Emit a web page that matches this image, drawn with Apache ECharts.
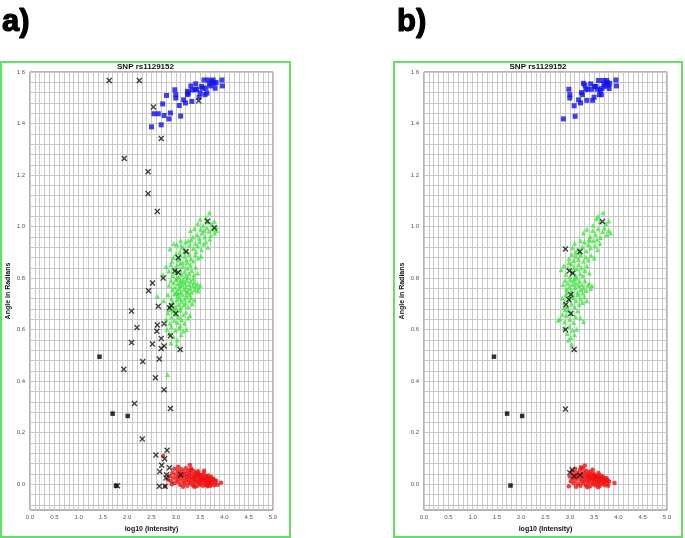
<!DOCTYPE html>
<html>
<head>
<meta charset="utf-8">
<script src="https://cdn.jsdelivr.net/npm/echarts@6/dist/echarts.min.js"></script>
<style>
  html, body { margin: 0; padding: 0; background: #fff; }
  #chart { width: 685px; height: 538px; }
</style>
</head>
<body>
<div id="chart"></div>
<script>
// axis ticks (labelled values)
const xTickLabels = [0, 0.5, 1, 1.5, 2, 2.5, 3, 3.5, 4, 4.5, 5];
const yTickLabels = [0, 0.2, 0.4, 0.6, 0.8, 1.0, 1.2, 1.4, 1.6];
const chartTitle = 'SNP rs1129152';
const xName = 'log10 (Intensity)';
const yName = 'Angle in Radians';

// ---- panel a) ----
const blueA = [
  [2.50,1.387],[2.55,1.438],[2.64,1.438],[2.70,1.395],[2.73,1.476],[2.76,1.431],[2.81,1.509],[2.86,1.418],
  [2.89,1.441],[2.98,1.531],[3.00,1.499],[3.00,1.512],[3.07,1.470],[3.10,1.429],[3.16,1.492],[3.20,1.480],
  [3.24,1.525],[3.26,1.518],[3.31,1.546],[3.33,1.486],[3.34,1.531],[3.41,1.554],[3.43,1.533],[3.50,1.518],
  [3.48,1.502],[3.53,1.544],[3.55,1.537],[3.58,1.569],[3.60,1.512],[3.64,1.518],[3.67,1.569],[3.69,1.554],
  [3.72,1.546],[3.74,1.563],[3.77,1.569],[3.79,1.556],[3.81,1.537],[3.83,1.559],[3.95,1.569],[3.96,1.546],
  [3.62,1.537],[3.40,1.531],[3.24,1.512]
];
const greenA = [
  [3.69,1.053],[3.50,1.028],[3.79,1.021],[3.62,1.035],[3.74,1.010],[3.56,1.005],[3.83,1.000],[3.45,1.012],[3.66,1.018],
  [3.30,0.985],[3.38,0.992],[3.44,0.968],[3.51,0.990],[3.55,0.975],[3.60,0.960],[3.64,0.995],[3.68,0.982],[3.72,0.965],
  [3.76,0.990],[3.80,0.975],[3.48,0.955],[3.58,0.985],[3.35,0.960],[3.70,0.952],[3.84,0.985],
  [3.02,0.930],[3.10,0.945],[3.15,0.918],[3.20,0.940],[3.24,0.905],[3.28,0.928],[3.32,0.948],[3.36,0.915],[3.40,0.935],
  [3.45,0.925],[3.49,0.942],[3.53,0.910],[3.57,0.932],[3.62,0.940],[3.66,0.920],[2.96,0.934],[3.18,0.905],[3.42,0.902],
  [3.26,0.945],[3.12,0.925],
  [2.95,0.880],[3.00,0.895],[3.05,0.870],[3.10,0.888],[3.14,0.862],[3.18,0.885],[3.22,0.870],[3.27,0.892],[3.31,0.875],
  [3.36,0.866],[3.40,0.890],[3.46,0.878],[3.52,0.885],[2.88,0.913],[3.08,0.900],[3.24,0.860],
  [2.74,0.813],[2.80,0.845],[2.86,0.828],[2.90,0.852],[2.94,0.810],[2.97,0.838],[3.00,0.822],[3.03,0.850],[3.06,0.805],
  [3.09,0.832],[3.12,0.815],[3.15,0.845],[3.18,0.825],[3.21,0.808],[3.24,0.838],[3.27,0.818],[3.30,0.850],[3.33,0.830],
  [3.37,0.812],[3.41,0.842],[3.45,0.820],[2.92,0.865],[3.10,0.858],[3.25,0.802],[3.02,0.800],
  [2.86,0.772],[2.90,0.790],[2.93,0.755],[2.96,0.782],[2.98,0.765],[3.01,0.795],[3.03,0.748],[3.05,0.778],[3.07,0.760],
  [3.09,0.788],[3.11,0.745],[3.13,0.772],[3.15,0.795],[3.17,0.756],[3.19,0.780],[3.21,0.766],[3.23,0.792],[3.25,0.750],
  [3.27,0.775],[3.29,0.760],[3.31,0.788],[3.33,0.745],[3.35,0.770],[3.37,0.782],[3.39,0.755],[3.41,0.768],[3.44,0.778],
  [3.47,0.762],[3.50,0.772],[3.00,0.742],[3.14,0.785],[3.22,0.745],[3.36,0.798],[3.46,0.750],[3.08,0.770],
  [2.62,0.730],[2.75,0.712],[2.84,0.735],[2.88,0.695],[2.91,0.720],[2.94,0.705],[2.97,0.738],[2.99,0.688],[3.02,0.715],
  [3.04,0.730],[3.06,0.698],[3.08,0.722],[3.10,0.685],[3.12,0.710],[3.14,0.735],[3.16,0.695],[3.18,0.718],[3.20,0.702],
  [3.22,0.728],[3.25,0.690],[3.28,0.712],[3.31,0.725],[3.34,0.700],[3.38,0.715],[2.95,0.682],[3.05,0.740],[3.27,0.735],
  [2.80,0.640],[2.84,0.665],[2.88,0.625],[2.91,0.650],[2.94,0.672],[2.97,0.635],[3.00,0.660],[3.03,0.628],[3.06,0.648],
  [3.09,0.675],[3.12,0.638],[3.15,0.658],[3.18,0.625],[3.21,0.668],[3.25,0.645],[3.29,0.655],[2.86,0.678],[3.02,0.678],
  [2.82,0.602],[2.87,0.585],[2.91,0.612],[2.95,0.572],[2.99,0.598],[3.03,0.560],[3.07,0.605],[3.11,0.580],[3.15,0.595],
  [3.22,0.601],[2.90,0.548],[3.02,0.540],[3.09,0.615],[2.83,0.426]
];
const redA = [
  [2.78,-0.008],[2.84,0.018],[2.88,0.032],[2.90,0.012],[2.93,0.045],[2.95,0.025],[2.97,0.060],[2.98,0.005],[3.00,0.038],[3.02,0.020],
  [3.04,0.052],[3.05,0.010],[3.06,0.030],[3.08,0.044],[3.09,-0.002],[3.10,0.022],[3.12,0.058],[3.13,0.035],[3.15,0.012],[3.16,0.048],
  [3.17,0.026],[3.18,0.004],[3.20,0.040],[3.21,0.062],[3.22,0.018],[3.23,0.030],[3.24,-0.006],[3.25,0.050],[3.26,0.010],[3.27,0.036],
  [3.28,0.024],[3.29,0.075],[3.30,0.004],[3.31,0.044],[3.32,0.060],[3.33,0.016],[3.34,0.030],[3.35,-0.004],[3.36,0.052],[3.37,0.022],
  [3.38,0.008],[3.39,0.038],[3.40,0.028],[3.41,0.014],[3.42,0.046],[3.43,-0.008],[3.44,0.020],[3.45,0.034],[3.46,0.004],[3.47,0.040],
  [3.48,0.012],[3.49,0.026],[3.50,-0.002],[3.51,0.036],[3.52,0.016],[3.53,0.008],[3.54,0.030],[3.55,0.020],[3.56,-0.006],[3.57,0.042],
  [3.58,0.012],[3.59,0.024],[3.60,0.002],[3.61,0.032],[3.62,0.016],[3.63,-0.004],[3.64,0.026],[3.65,0.008],[3.66,0.018],[3.67,0.034],
  [3.68,0.000],[3.69,0.012],[3.70,0.022],[3.71,-0.006],[3.72,0.010],[3.73,0.028],[3.74,0.004],[3.76,0.016],[3.78,0.020],[3.79,-0.004],
  [3.81,0.008],[3.83,0.014],[3.86,-0.002],[3.93,0.006],[3.15,-0.010],[3.05,0.068],[2.92,0.000],[3.30,0.056],[3.46,0.050],[3.38,-0.010],
  [3.58,0.052],[3.66,-0.008],[2.74,0.110]
];
const crossA = [
  [1.63,1.567],[2.25,1.567],[2.54,1.464],[2.70,1.342],[1.94,1.264],[2.43,1.213],[2.43,1.128],[2.62,1.059],[3.47,1.488],
  [3.65,1.021],[3.79,0.995],[3.21,0.903],[3.05,0.879],[2.98,0.828],[3.05,0.822],[2.74,0.800],[2.52,0.781],[2.44,0.751],
  [2.64,0.691],[2.87,0.685],[2.91,0.694],[3.00,0.663],[2.09,0.672],[2.20,0.608],[2.62,0.618],[2.76,0.623],[2.61,0.594],
  [2.89,0.576],[2.70,0.566],[2.09,0.550],[2.52,0.544],[2.76,0.537],[2.70,0.527],[3.09,0.523],[2.32,0.476],[2.66,0.486],
  [1.93,0.446],[2.58,0.413],[2.76,0.367],[2.15,0.313],[2.89,0.294],[2.31,0.176],[2.59,0.113],[2.82,0.132],[2.77,0.099],
  [2.71,0.074],[2.87,0.064],[2.67,0.049],[2.81,0.037],[2.80,0.024],[3.10,0.037],[2.66,-0.008],[2.78,-0.008],[1.80,-0.006]
];
const blackA = [[1.43,0.495],[1.70,0.274],[2.01,0.265],[1.77,-0.006]];

// ---- panel b) ----
const blueB = [
  [2.87,1.418],[2.98,1.533],[3.00,1.512],[3.00,1.499],[3.09,1.469],[3.11,1.428],[3.18,1.492],[3.22,1.480],
  [3.24,1.520],[3.26,1.512],[3.31,1.549],[3.33,1.533],[3.35,1.490],[3.43,1.554],[3.45,1.533],[3.47,1.490],
  [3.50,1.502],[3.54,1.544],[3.57,1.533],[3.59,1.567],[3.61,1.512],[3.63,1.528],[3.65,1.512],[3.69,1.567],
  [3.70,1.554],[3.72,1.544],[3.76,1.567],[3.77,1.559],[3.79,1.549],[3.81,1.536],[3.82,1.556],[3.95,1.569],
  [3.96,1.546],[3.37,1.533],[3.28,1.556],[3.51,1.544],[3.66,1.536]
];
const greenB = [
  [3.68,1.054],[3.55,1.030],[3.62,1.018],[3.74,1.012],[3.48,1.005],[3.80,1.022],[3.58,1.040],
  [3.28,0.975],[3.35,0.990],[3.42,0.962],[3.47,0.985],[3.53,0.970],[3.58,0.992],[3.63,0.958],[3.67,0.980],[3.71,0.995],
  [3.76,0.968],[3.80,0.985],[3.40,0.952],[3.56,0.950],[3.84,0.975],
  [3.10,0.935],[3.16,0.912],[3.22,0.945],[3.26,0.922],[3.30,0.940],[3.34,0.905],[3.38,0.930],[3.43,0.918],[3.48,0.945],
  [3.52,0.925],[3.57,0.910],[3.62,0.935],[3.20,0.900],[3.05,0.918],[3.40,0.948],
  [2.98,0.875],[3.04,0.892],[3.08,0.868],[3.13,0.885],[3.18,0.872],[3.23,0.890],[3.28,0.865],[3.33,0.882],[3.38,0.870],
  [3.44,0.888],[3.50,0.878],[3.12,0.898],
  [2.82,0.832],[2.88,0.848],[2.92,0.815],[2.96,0.840],[3.00,0.805],[3.03,0.855],[3.06,0.825],[3.09,0.842],[3.12,0.810],
  [3.15,0.835],[3.18,0.852],[3.21,0.818],[3.24,0.840],[3.27,0.808],[3.31,0.830],[3.35,0.848],[3.40,0.820],[2.98,0.860],
  [3.14,0.800],
  [2.86,0.775],[2.90,0.792],[2.93,0.758],[2.96,0.780],[2.99,0.765],[3.01,0.795],[3.04,0.750],[3.06,0.775],[3.08,0.790],
  [3.11,0.762],[3.13,0.778],[3.16,0.745],[3.18,0.770],[3.20,0.788],[3.23,0.755],[3.25,0.775],[3.28,0.762],[3.31,0.790],
  [3.34,0.752],[3.37,0.772],[3.40,0.780],[3.43,0.760],[3.46,0.770],[2.94,0.745],[3.10,0.798],[3.26,0.742],
  [2.85,0.722],[2.89,0.705],[2.92,0.735],[2.95,0.690],[2.98,0.718],[3.01,0.730],[3.04,0.700],[3.07,0.725],[3.10,0.688],
  [3.13,0.712],[3.16,0.735],[3.19,0.698],[3.22,0.720],[3.26,0.705],[3.30,0.728],[3.35,0.712],[2.88,0.685],[3.05,0.738],
  [2.76,0.636],[2.80,0.642],[2.85,0.660],[2.89,0.630],[2.93,0.655],[2.97,0.675],[3.00,0.640],[3.04,0.662],[3.08,0.628],
  [3.12,0.650],[3.16,0.672],[3.22,0.645],[3.28,0.632],[2.91,0.678],
  [2.90,0.605],[2.95,0.585],[2.99,0.612],[3.02,0.570],[3.06,0.598],[3.10,0.580],[3.04,0.543],[3.14,0.602],[2.97,0.560]
];
const redB = [
  [2.98,-0.008],[3.00,0.030],[3.02,0.012],[3.04,0.048],[3.06,0.022],[3.08,0.004],[3.09,0.036],[3.11,0.060],[3.12,0.016],
  [3.14,0.028],[3.15,0.045],[3.17,0.002],[3.18,0.034],[3.20,0.020],[3.21,0.055],[3.22,-0.006],[3.24,0.040],[3.25,0.012],
  [3.26,0.028],[3.27,0.062],[3.28,0.005],[3.29,0.046],[3.30,0.020],[3.31,0.073],[3.32,0.034],[3.33,-0.004],[3.34,0.052],
  [3.35,0.014],[3.36,0.026],[3.37,0.040],[3.38,0.006],[3.39,0.030],[3.40,0.018],[3.41,0.048],[3.42,-0.008],[3.43,0.024],
  [3.44,0.036],[3.45,0.010],[3.46,0.022],[3.47,0.042],[3.48,0.002],[3.49,0.030],[3.50,0.016],[3.51,0.038],[3.52,-0.004],
  [3.53,0.026],[3.54,0.012],[3.55,0.032],[3.56,0.020],[3.57,0.004],[3.58,0.028],[3.59,0.044],[3.60,0.010],[3.61,0.022],
  [3.62,-0.006],[3.63,0.034],[3.64,0.014],[3.65,0.026],[3.66,0.002],[3.67,0.018],[3.68,0.030],[3.70,0.008],[3.71,0.020],
  [3.72,-0.004],[3.73,0.014],[3.75,0.024],[3.76,0.004],[3.78,0.016],[3.79,-0.006],[3.81,0.010],[3.92,0.005],[3.13,-0.010],
  [3.36,-0.012],[3.23,0.066],[3.47,0.056],[3.58,-0.012]
];
const crossB = [
  [2.91,0.913],[3.21,0.903],[2.99,0.828],[3.06,0.819],[3.02,0.736],[2.98,0.717],[2.92,0.697],[3.02,0.663],
  [2.91,0.600],[3.09,0.523],[2.91,0.292],[3.05,0.056],[3.09,0.031],[3.21,0.036],[3.00,0.045],[3.67,1.020]
];
const blackB = [[1.44,0.495],[1.71,0.274],[2.02,0.265],[1.78,-0.005]];

// grid line positions (0.1 steps on x, 0.04 steps on y)
const xGridLines = [];
for (let i = 0; i <= 50; i++) xGridLines.push(+(i * 0.1).toFixed(2));
const yGridLines = [];
for (let i = -2; i <= 40; i++) yGridLines.push(+(i * 0.04).toFixed(2));

const FONT = 'Liberation Sans, Arial, sans-serif';
const crossPath = 'path://M0,1.6L1.6,0L5,3.4L8.4,0L10,1.6L6.6,5L10,8.4L8.4,10L5,6.6L1.6,10L0,8.4L3.4,5Z';

const panels = [
  { left: 30, box: [1, 62, 289, 475], letter: 'a)', letterX: 2, blue: blueA, green: greenA, red: redA, cross: crossA, black: blackA },
  { left: 424, box: [394, 62, 288, 475], letter: 'b)', letterX: 397, blue: blueB, green: greenB, red: redB, cross: crossB, black: blackB }
];

const grids = [], xAxes = [], yAxes = [], series = [], graphics = [], titles = [];

panels.forEach((p, i) => {
  grids.push({
    left: p.left, top: 72, width: 243, height: 443,
    show: true, borderColor: '#6a6a6a', borderWidth: 1, backgroundColor: '#fff'
  });
  xAxes.push({
    type: 'value', gridIndex: i, min: 0, max: 5,
    name: xName, nameLocation: 'middle', nameGap: 16,
    nameTextStyle: { fontFamily: FONT, fontSize: 7, fontWeight: 'bold', color: '#111' },
    axisLine: { show: false },
    axisTick: { show: false, customValues: xGridLines },
    axisLabel: {
      customValues: xTickLabels, margin: 4,
      fontFamily: FONT, fontSize: 6, color: '#555',
      formatter: v => v.toFixed(1)
    },
    splitLine: { show: true, lineStyle: { color: '#c8c8c8', width: 1 } }
  });
  yAxes.push({
    type: 'value', gridIndex: i, min: -0.1, max: 1.6,
    name: yName, nameLocation: 'middle', nameGap: 18, nameRotate: 90,
    nameTextStyle: { fontFamily: FONT, fontSize: 7, fontWeight: 'bold', color: '#111' },
    axisLine: { show: false },
    axisTick: { show: false, customValues: yGridLines },
    axisLabel: {
      customValues: yTickLabels, margin: 5,
      fontFamily: FONT, fontSize: 6, color: '#555',
      formatter: v => v.toFixed(1)
    },
    splitLine: { show: true, lineStyle: { color: '#c8c8c8', width: 1 } }
  });

  const base = { type: 'scatter', xAxisIndex: i, yAxisIndex: i, silent: true };
  series.push(
    Object.assign({}, base, { name: 'blue', data: p.blue, symbol: 'rect', symbolSize: 5, itemStyle: { color: '#1212ee' } }),
    Object.assign({}, base, { name: 'green', data: p.green, symbol: 'triangle', symbolSize: 5, itemStyle: { color: '#3ee83e' } }),
    Object.assign({}, base, { name: 'red', data: p.red, symbol: 'circle', symbolSize: 4.5, itemStyle: { color: '#f01010' } }),
    Object.assign({}, base, { name: 'black', data: p.black, symbol: 'rect', symbolSize: 4.5, itemStyle: { color: '#000' } }),
    Object.assign({}, base, { name: 'cross', data: p.cross, symbol: crossPath, symbolSize: 6, itemStyle: { color: '#111' }, z: 5 })
  );

  titles.push({
    text: chartTitle, left: p.box[0] + p.box[2] / 2, top: 63, textAlign: 'center', padding: 0,
    textStyle: { fontFamily: FONT, fontSize: 8, fontWeight: 'bold', color: '#111' }
  });

  graphics.push(
    { type: 'rect', silent: true, shape: { x: p.box[0], y: p.box[1], width: p.box[2], height: p.box[3] },
      style: { fill: 'none', stroke: '#62e062', lineWidth: 2 } },
    { type: 'text', silent: true, x: p.letterX, y: 7,
      style: { text: p.letter, fontFamily: 'Liberation Sans', fontSize: 31, fontWeight: 'bold',
               fill: '#000', stroke: '#000', lineWidth: 1.2 } }
  );
});

const chart = echarts.init(document.getElementById('chart'));
chart.setOption({
  animation: false,
  backgroundColor: '#fff',
  title: titles,
  grid: grids,
  xAxis: xAxes,
  yAxis: yAxes,
  series: series,
  graphic: graphics
});
</script>
</body>
</html>
